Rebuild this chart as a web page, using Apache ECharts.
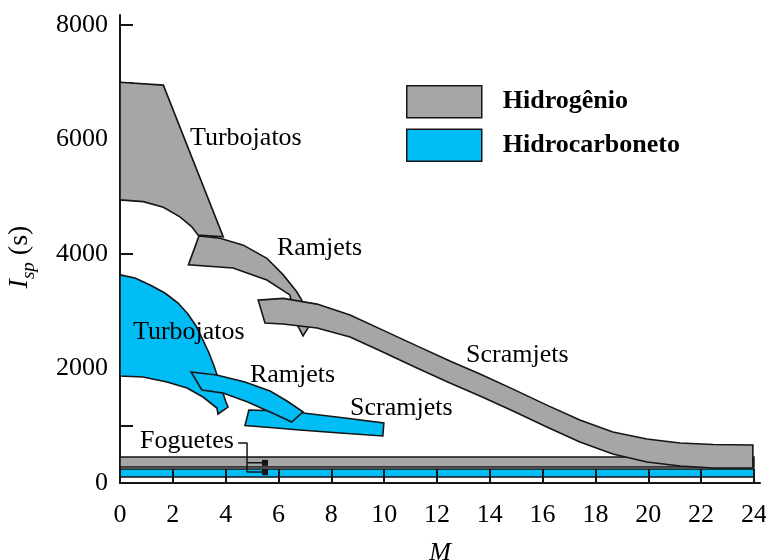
<!DOCTYPE html>
<html>
<head>
<meta charset="utf-8">
<script src="https://cdn.jsdelivr.net/npm/echarts@6/dist/echarts.min.js"></script>
<style>html,body{margin:0;padding:0;background:#fff}#c{width:766px;height:560px}</style>
</head>
<body>
<div id="c"></div>
<script>
// ---- data (Mach number M, specific impulse Isp in s) ----
const xTickValues = [0, 2, 4, 6, 8, 10, 12, 14, 16, 18, 20, 22, 24];
const yLabelValues = [0, 2000, 4000, 6000, 8000];
const yTickValues = [0, 1000, 2000, 3000, 4000, 5000, 6000, 7000, 8000];

// Hidrogênio regions (outline vertices [M, Isp])
const h2Rocket = [[0, 280], [24, 280], [24, 455], [0, 455]];
const h2Turbojet = [[0, 7000], [1.64, 6950], [3.91, 4300], [2.96, 4330], [2.71, 4480], [2.27, 4650], [1.64, 4815], [0.88, 4915], [0, 4945]];
const h2Ramjet = [[2.99, 4315], [3.79, 4275], [4.67, 4155], [5.56, 3925], [6.18, 3635], [6.69, 3340], [6.88, 3195], [7.04, 2935], [7.12, 2710], [6.93, 2570], [6.66, 2810], [6.43, 3285], [5.56, 3545], [4.28, 3755], [2.59, 3810]];
const h2Scramjet = [[5.23, 3195], [6.18, 3225], [7.46, 3125], [8.71, 2935], [9.95, 2670], [11.24, 2395], [12.49, 2130], [13.63, 1905], [14.88, 1640], [16.16, 1360], [17.41, 1100], [18.66, 890], [19.95, 770], [21.2, 700], [22.45, 672], [23.96, 664],
  [23.96, 262], [22.45, 262], [21.2, 297], [19.95, 367], [18.66, 507], [17.41, 716], [16.16, 978], [14.88, 1258], [13.63, 1520], [12.49, 1747], [11.24, 2009], [9.95, 2288], [8.71, 2550], [7.46, 2707], [6.17, 2777], [5.49, 2795]];

// Hidrocarboneto regions
const hcRocket = [[0, 105], [24, 105], [24, 245], [0, 245]];
const hcTurbojet = [[0, 3635], [0.57, 3581], [1.14, 3458], [1.70, 3319], [2.20, 3144], [2.57, 2952], [2.88, 2742], [3.14, 2498], [3.37, 2271], [3.56, 2044], [3.71, 1834], [3.86, 1624], [4.01, 1415], [4.09, 1327], [3.71, 1205], [3.67, 1310], [3.14, 1502], [2.54, 1659], [1.78, 1764], [0.87, 1852], [0, 1869]];
const hcScramjet = [[4.88, 1275], [5.49, 1266], [6.93, 1223], [8.52, 1135], [9.99, 1048], [9.95, 821], [8.33, 873], [6.81, 926], [5.68, 969], [4.73, 1004]];
const hcRamjet = [[2.69, 1939], [3.66, 1886], [4.73, 1764], [5.68, 1607], [6.32, 1432], [6.93, 1245], [6.50, 1065], [5.79, 1217], [4.81, 1420], [3.90, 1572], [3.10, 1624]];

// annotations
const labelTexts = ['Turbojatos', 'Ramjets', 'Scramjets', 'Turbojatos', 'Ramjets', 'Scramjets', 'Foguetes'];
const labelAnchors = [[2.65, 6025], [5.94, 4105], [13.1, 2236], [0.49, 2637], [4.92, 1886], [8.71, 1310], [0.76, 734]];
const bracketMain = [[4.47, 700], [4.81, 700], [4.81, 190], [5.49, 190]];
const bracketBranch = [[4.81, 352], [5.49, 352]];
const bracketEnds = [[5.49, 352], [5.49, 190]];

const seriesNames = ['Hidrogênio', 'Hidrocarboneto'];
const GRAY = '#a6a6a6', BLUE = '#00bdf5', EDGE = '#151515';
const FONT = 'Liberation Serif';

function polySeries(name, polys, color) {
  return {
    type: 'custom', name: name, coordinateSystem: 'cartesian2d', z: 2,
    itemStyle: { color: color, borderColor: EDGE, borderWidth: 1.5 },
    data: polys.map((p, i) => [i, 0]),
    renderItem: function (params, api) {
      const pts = polys[params.dataIndex].map(v => api.coord(v));
      return { type: 'polygon', shape: { points: pts }, style: { fill: color, stroke: EDGE, lineWidth: 1.6, lineJoin: 'miter' } };
    }
  };
}

const chart = echarts.init(document.getElementById('c'), null, { renderer: 'canvas' });
chart.setOption({
  backgroundColor: '#fff',
  animation: false,
  grid: { left: 120, right: 6, top: 15, bottom: 77, containLabel: false, outerBoundsMode: 'none' },
  legend: {
    orient: 'vertical', left: 406, top: 85, padding: 0, itemGap: 10,
    itemWidth: 75, itemHeight: 32, icon: 'rect', selectedMode: false,
    data: seriesNames,
    itemStyle: { borderColor: EDGE, borderWidth: 1.5 },
    textStyle: { fontFamily: FONT, fontWeight: 'bold', fontSize: 26, color: '#000', padding: [0, 0, 0, 16] }
  },
  xAxis: {
    type: 'value', min: 0, max: 24.23, z: 5,
    name: 'M', nameLocation: 'middle', nameGap: 57,
    nameTextStyle: { fontFamily: FONT, fontStyle: 'italic', fontSize: 26, color: '#000' },
    axisLine: { show: true, onZero: false, lineStyle: { color: EDGE, width: 2 } },
    axisTick: { show: true, inside: true, length: 14, customValues: xTickValues, lineStyle: { color: EDGE, width: 2 } },
    axisLabel: { customValues: xTickValues, margin: 19, fontFamily: FONT, fontSize: 26, color: '#000', formatter: v => String(v) },
    splitLine: { show: false }
  },
  yAxis: {
    type: 'value', min: 0, max: 8175, z: 0,
    name: '{i|I}{s|sp}{n| (s)}', nameLocation: 'middle', nameGap: 82, nameRotate: 90,
    nameTextStyle: {
      color: '#000', padding: [0, 16, 0, 0],
      rich: {
        i: { fontFamily: FONT, fontStyle: 'italic', fontSize: 28, lineHeight: 32, verticalAlign: 'top', color: '#000' },
        s: { fontFamily: FONT, fontStyle: 'italic', fontSize: 19, lineHeight: 22, verticalAlign: 'bottom', color: '#000' },
        n: { fontFamily: FONT, fontSize: 28, lineHeight: 32, verticalAlign: 'top', color: '#000' }
      }
    },
    axisLine: { show: true, lineStyle: { color: EDGE, width: 2 } },
    axisTick: { show: true, inside: true, length: 13, customValues: yTickValues, lineStyle: { color: EDGE, width: 2 } },
    axisLabel: { customValues: yLabelValues, margin: 12, fontFamily: FONT, fontSize: 26, color: '#000', formatter: v => String(v) },
    splitLine: { show: false }
  },
  series: [
    polySeries(seriesNames[0], [h2Rocket, h2Turbojet, h2Ramjet, h2Scramjet], GRAY),
    polySeries(seriesNames[1], [hcRocket, hcTurbojet, hcScramjet, hcRamjet], BLUE),
    { type: 'line', data: bracketMain, symbol: 'none', z: 4, lineStyle: { color: EDGE, width: 1.5 } },
    { type: 'line', data: bracketBranch, symbol: 'none', z: 4, lineStyle: { color: EDGE, width: 1.5 } },
    { type: 'scatter', data: bracketEnds, symbol: 'rect', symbolSize: 6, z: 4, itemStyle: { color: EDGE, opacity: 1 } },
    {
      type: 'scatter', z: 6, symbolSize: 0, itemStyle: { opacity: 1 },
      data: labelAnchors.map((p, i) => ({ value: p, name: labelTexts[i] })),
      label: { show: true, position: 'right', distance: 0, formatter: '{b}', fontFamily: FONT, fontSize: 26, color: '#000', opacity: 1 }
    }
  ]
});
</script>
</body>
</html>
